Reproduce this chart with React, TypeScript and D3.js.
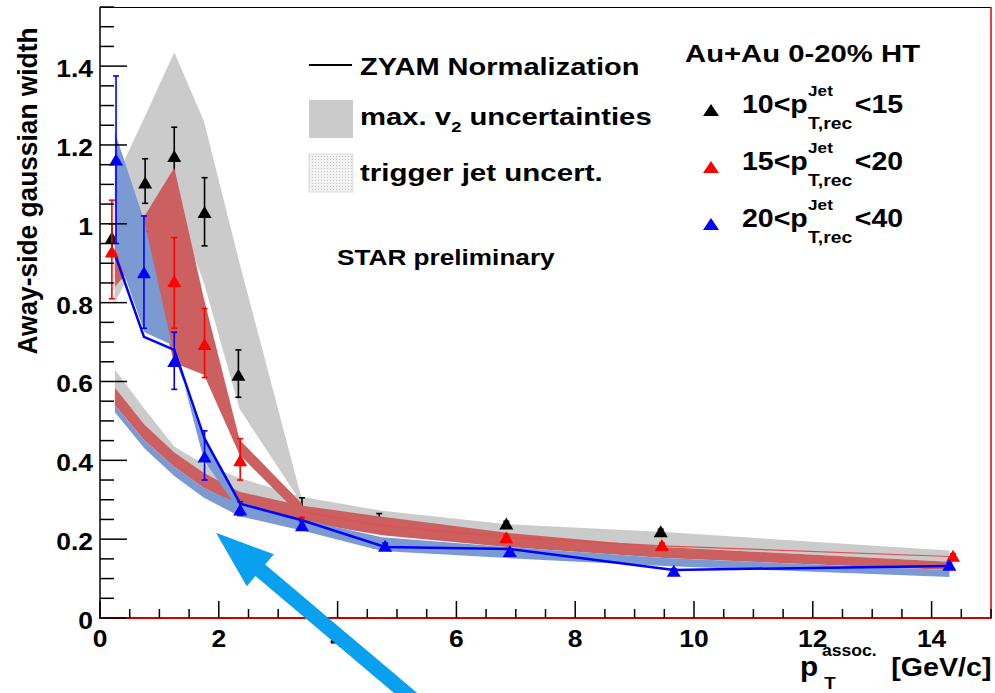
import React from "react";
import * as d3 from "d3";

const W = 995;
const H = 693;

// ---------- data ----------
const xBlack = [0.2, 0.76, 1.25, 1.76, 2.33, 3.4, 4.7, 6.84, 9.44];
const wBlack = [0.965, 1.105, 1.172, 1.03, 0.617, 0.27, 0.24, 0.24, 0.22];
const eBlackHi = [1.0, 1.165, 1.245, 1.117, 0.68, 0.305, 0.265, 0.245, 0.225];
const eBlackLo = [0.93, 1.052, 1.1, 0.944, 0.56, 0.25, 0.23, 0.235, 0.215];

const xRed = [0.2, 0.75, 1.25, 1.76, 2.36, 3.4, 4.7, 6.84, 9.46, 14.36];
const wRed = [0.93, 0.9, 0.855, 0.695, 0.4, 0.245, 0.19, 0.205, 0.185, 0.158];
const eRedHi = [1.06, 0.98, 0.965, 0.785, 0.455, 0.255, 0.2, 0.21, 0.19, 0.163];
const eRedLo = [0.81, 0.82, 0.735, 0.61, 0.35, 0.235, 0.18, 0.2, 0.18, 0.153];

const xBlue = [0.27, 0.74, 1.25, 1.76, 2.36, 3.4, 4.8, 6.9, 9.66, 14.3];
const wBlue = [1.163, 0.877, 0.652, 0.41, 0.275, 0.235, 0.183, 0.17, 0.12, 0.135];
const eBlueHi = [1.375, 1.02, 0.725, 0.475, 0.295, 0.245, 0.19, 0.175, 0.125, 0.14];
const eBlueLo = [0.95, 0.735, 0.58, 0.35, 0.26, 0.225, 0.176, 0.165, 0.115, 0.13];
const zyamBlue = [0.915, 0.713, 0.68, 0.455, 0.29, 0.248, 0.18, 0.175, 0.122, 0.132];

const xZyamRed = [3.4, 4.7, 6.84, 9.46, 14.3];
const zyamRed = [0.27, 0.235, 0.205, 0.183, 0.156];

// uncertainty bands
const bandX = [0.25, 0.75, 1.25, 1.75, 2.35, 3.4, 4.75, 6.85, 9.5, 14.3];
const greyUpHi = [1.11, 1.27, 1.435, 1.26, 0.9, 0.3];
const greyUpLo = [0.8, 0.95, 1.05, 0.85, 0.53, 0.29];
const redUpHi = [0.95, 1.02, 1.142, 0.81, 0.452, 0.29];
const redUpLo = [0.84, 0.93, 0.647, 0.617, 0.414, 0.256];
const blueUpHi = [1.233, 1.005, 0.665, 0.45, 0.295, 0.25];
const blueUpLo = [0.94, 0.725, 0.69, 0.4, 0.27, 0.225];

const greyLoHi = [0.63, 0.53, 0.435, 0.39, 0.355, 0.307, 0.272, 0.238, 0.218, 0.171];
const greyLoLo = [0.585, 0.49, 0.4, 0.35, 0.32, 0.28, 0.25, 0.21, 0.18, 0.143];
const redLoHi = [0.585, 0.49, 0.42, 0.368, 0.32, 0.285, 0.257, 0.216, 0.18, 0.143];
const redLoLo = [0.54, 0.45, 0.383, 0.33, 0.285, 0.245, 0.21, 0.18, 0.152, 0.122];
const blueLoHi = [0.54, 0.45, 0.383, 0.33, 0.29, 0.25, 0.205, 0.18, 0.152, 0.122];
const blueLoLo = [0.522, 0.43, 0.36, 0.305, 0.258, 0.222, 0.17, 0.152, 0.132, 0.104];

const yTickLabels = ["0", "0.2", "0.4", "0.6", "0.8", "1", "1.2", "1.4"];
const yTickValues = [0, 0.2, 0.4, 0.6, 0.8, 1.0, 1.2, 1.4];
const xTickValues = [0, 2, 4, 6, 8, 10, 12, 14];

const legendRows = [
  { lo: "10", hi: "15", color: "#000000" },
  { lo: "15", hi: "20", color: "#ff0000" },
  { lo: "20", hi: "40", color: "#0000ff" },
];

// arrow annotation in data coordinates
const arrowTip = [1.953, 0.216];
const arrowTail = [5.3, -0.21];

const FONT = "'Liberation Sans', Arial, Helvetica, sans-serif";
const GREY = "#cbcbcb";
const RED_BAND = "#cc5f5f";
const BLUE_BAND = "#7b9ad2";

function tri(cx: number, cy: number, hw = 7, hh = 6) {
  return `M${cx},${cy - hh} L${cx + hw},${cy + hh} L${cx - hw},${cy + hh} Z`;
}

export default function App() {
  const x = d3.scaleLinear().domain([0, 15]).range([100, 991]);
  const y = d3.scaleLinear().domain([0, 1.55]).range([618, 7]);

  const band = (xs: number[], lo: number[], hi: number[]) =>
    d3
      .area<number>()
      .x((i) => x(xs[i]))
      .y0((i) => y(lo[i]))
      .y1((i) => y(hi[i]))(lo.map((_, i) => i)) || "";

  const line = (xs: number[], vs: number[]) =>
    d3
      .line<number>()
      .x((i) => x(xs[i]))
      .y((i) => y(vs[i]))(vs.map((_, i) => i)) || "";

  const points = (xs: number[], vs: number[], hi: number[], lo: number[], color: string) => (
    <g>
      {xs.map((xv, i) => (
        <g key={i} stroke={color} strokeWidth={1.6}>
          <line x1={x(xv)} x2={x(xv)} y1={y(hi[i])} y2={y(lo[i])} />
          <line x1={x(xv) - 3} x2={x(xv) + 3} y1={y(hi[i])} y2={y(hi[i])} />
          <line x1={x(xv) - 3} x2={x(xv) + 3} y1={y(lo[i])} y2={y(lo[i])} />
          <path d={tri(x(xv), y(vs[i]))} fill={color} stroke="none" />
        </g>
      ))}
    </g>
  );

  const yMinor = d3.range(0, 1.5501, 0.05);
  const xMinor = d3.range(0, 15.001, 0.5);

  // arrow geometry
  const tx = x(arrowTip[0]);
  const ty = y(arrowTip[1]);
  const sx = x(arrowTail[0]);
  const sy = y(arrowTail[1]);
  const len = Math.hypot(sx - tx, sy - ty);
  const ux = (sx - tx) / len;
  const uy = (sy - ty) / len;
  const nx = -uy;
  const ny = ux;
  const bx = tx + ux * 58;
  const by = ty + uy * 58;
  const hw = 21;
  const sw = 7.5;
  const arrowPts = [
    [tx, ty],
    [bx + nx * hw, by + ny * hw],
    [bx + nx * sw, by + ny * sw],
    [sx + nx * sw, sy + ny * sw],
    [sx - nx * sw, sy - ny * sw],
    [bx - nx * sw, by - ny * sw],
    [bx - nx * hw, by - ny * hw],
  ]
    .map((p) => p.join(","))
    .join(" ");

  return (
    <svg
      width={W}
      height={H}
      style={{ position: "absolute", left: 0, top: 0, background: "#fff" }}
      fontFamily={FONT}
      fontWeight="bold"
    >
      <defs>
        <clipPath id="plotclip">
          <rect x={100} y={7} width={891} height={611} />
        </clipPath>
        <pattern id="dots" width={3} height={3} patternUnits="userSpaceOnUse">
          <rect width={3} height={3} fill="#f2f2f2" />
          <rect width={1} height={1} fill="#c4c4c4" />
        </pattern>
      </defs>
      <rect x={0} y={0} width={W} height={H} fill="#fff" />

      <g clipPath="url(#plotclip)">
        {/* black series */}
        <path d={band(bandX.slice(0, 6), greyUpLo, greyUpHi)} fill={GREY} />
        <path d={band(bandX, greyLoLo, greyLoHi)} fill={GREY} />
        {points(xBlack, wBlack, eBlackHi, eBlackLo, "#000000")}
        {/* red series */}
        <path d={band(bandX.slice(0, 6), redUpLo, redUpHi)} fill={RED_BAND} />
        <path d={band(bandX, redLoLo, redLoHi)} fill={RED_BAND} />
        <path d={line(xZyamRed, zyamRed)} fill="none" stroke="#e05050" strokeWidth={1.2} />
        {points(xRed, wRed, eRedHi, eRedLo, "#ff0000")}
        {/* blue series */}
        <path d={band(bandX.slice(0, 6), blueUpLo, blueUpHi)} fill={BLUE_BAND} />
        <path d={band(bandX, blueLoLo, blueLoHi)} fill={BLUE_BAND} />
        <path d={line(xBlue, zyamBlue)} fill="none" stroke="#0000ff" strokeWidth={2.5} />
        {points(xBlue, wBlue, eBlueHi, eBlueLo, "#0000ff")}
      </g>

      {/* frame */}
      <line x1={100} x2={991} y1={7.5} y2={7.5} stroke="#000" strokeWidth={1} />
      <line x1={991} x2={991} y1={7} y2={619} stroke="#e00000" strokeWidth={1.5} />
      <line x1={100} x2={991} y1={618} y2={618} stroke="#d00000" strokeWidth={2} />
      <line x1={100} x2={100} y1={7} y2={619} stroke="#000" strokeWidth={1.5} />

      {/* y ticks */}
      {yMinor.map((v, i) => {
        const major = Math.abs(v / 0.2 - Math.round(v / 0.2)) < 1e-6;
        return (
          <line key={"ym" + i} x1={100} x2={100 + (major ? 27 : 14)} y1={y(v)} y2={y(v)} stroke="#000" strokeWidth={1.5} />
        );
      })}
      {yTickValues.map((v, i) => (
        <g key={"yl" + i} transform={`translate(93,${y(v) + 11}) scale(1.1,1)`}>
          <text textAnchor="end" fontSize={24} fill="#000">
            {yTickLabels[i]}
          </text>
        </g>
      ))}

      {/* x ticks */}
      {xMinor.map((v, i) => {
        const major = Math.abs(v / 2 - Math.round(v / 2)) < 1e-6;
        return (
          <line key={"xm" + i} x1={x(v)} x2={x(v)} y1={618} y2={618 - (major ? 17 : 9)} stroke="#000" strokeWidth={1.5} />
        );
      })}
      {xTickValues.map((v, i) => (
        <g key={"xl" + i} transform={`translate(${x(v)},647) scale(1.1,1)`}>
          <text textAnchor="middle" fontSize={24} fill="#000">
            {String(v)}
          </text>
        </g>
      ))}

      {/* axis titles */}
      <text
        transform="translate(37,191) rotate(-90)"
        textAnchor="middle"
        fontSize={28}
        textLength={327}
        lengthAdjust="spacingAndGlyphs"
        fill="#000"
      >
        Away-side gaussian width
      </text>
      <g transform="translate(800,676) scale(1.1,1)">
        <text fontSize={27} fill="#000">p</text>
        <text x={20} y={-20} fontSize={16} fill="#000">assoc.</text>
        <text x={22} y={13} fontSize={17} fill="#000">T</text>
        <text x={83} fontSize={26} fill="#000">[GeV/c]</text>
      </g>

      {/* left legend */}
      <line x1={309} x2={352} y1={65} y2={65} stroke="#000" strokeWidth={2} />
      <g transform="translate(360,75) scale(1.21,1)">
        <text fontSize={24} fill="#000">ZYAM Normalization</text>
      </g>
      <rect x={309} y={100} width={44} height={38} fill={GREY} />
      <g transform="translate(360,125) scale(1.22,1)">
        <text fontSize={24} fill="#000">
          max. v
          <tspan fontSize={15} dy={7}>2</tspan>
          <tspan dy={-7}> uncertainties</tspan>
        </text>
      </g>
      <rect x={309} y={154} width={44} height={38} fill="url(#dots)" stroke="#dcdcdc" strokeWidth={1} />
      <g transform="translate(360,181) scale(1.23,1)">
        <text fontSize={24} fill="#000">trigger jet uncert.</text>
      </g>
      <g transform="translate(337,265) scale(1.19,1)">
        <text fontSize={22} fill="#000">STAR preliminary</text>
      </g>

      {/* right legend */}
      <g transform="translate(685,62) scale(1.22,1)">
        <text fontSize={24} fill="#000">Au+Au 0-20% HT</text>
      </g>
      {legendRows.map((r, i) => {
        const b = 113 + 57 * i;
        return (
          <g key={"lr" + i}>
            <path d={tri(711, b - 3, 8, 6)} fill={r.color} />
            <g transform={`translate(742,${b}) scale(1.14,1)`} fill="#000">
              <text fontSize={25}>{r.lo + "<p"}</text>
              <text x={58} y={-17} fontSize={15}>Jet</text>
              <text x={58} y={16} fontSize={17}>T,rec</text>
              <text x={99} fontSize={25}>{"<" + r.hi}</text>
            </g>
          </g>
        );
      })}

      {/* arrow annotation */}
      <polygon points={arrowPts} fill="#0aa0f0" />
    </svg>
  );
}
